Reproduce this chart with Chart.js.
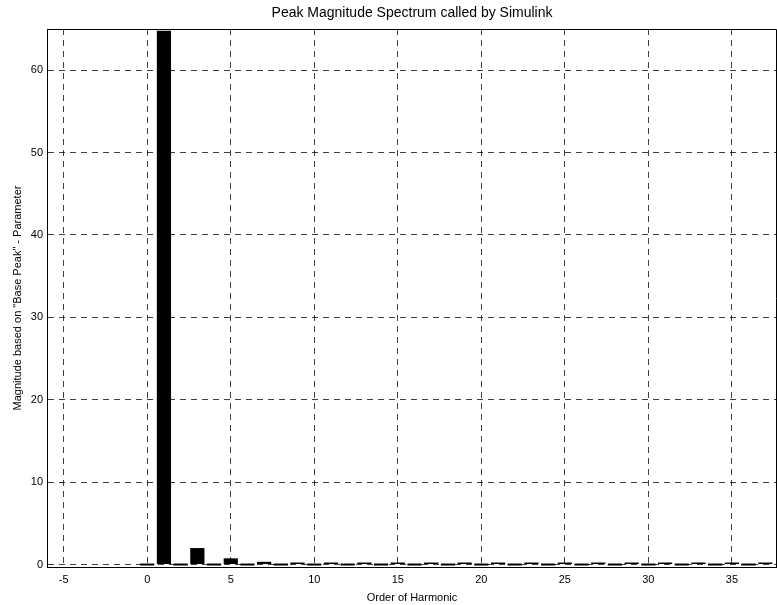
<!DOCTYPE html>
<html>
<head>
<meta charset="utf-8">
<title>Peak Magnitude Spectrum</title>
<script src="https://cdn.jsdelivr.net/npm/chart.js@4.4.1/dist/chart.umd.min.js"></script>
<style>
  html, body { margin: 0; padding: 0; background: #fff; }
  #wrap { width: 777px; height: 605px; }
</style>
</head>
<body>
<div id="wrap"><canvas id="chartSpectrum"></canvas></div>
<script>
// harmonic order and magnitude
const harmonics = [0, 1, 2, 3, 4, 5, 6, 7, 8, 9, 10, 11, 12, 13, 14, 15, 16, 17, 18,
  19, 20, 21, 22, 23, 24, 25, 26, 27, 28, 29, 30, 31, 32, 33, 34, 35, 36, 37];
const magnitudes = [0, 64.8, 0, 2.0, 0, 0.75, 0, 0.33, 0, 0.15, 0, 0.12, 0, 0.1, 0, 0.08,
  0, 0.07, 0, 0.06, 0, 0.05, 0, 0.05, 0, 0.04, 0, 0.04, 0, 0.03, 0, 0.03, 0, 0.03, 0, 0.02, 0, 0.02];

const xTicks = [-5, 0, 5, 10, 15, 20, 25, 30, 35];
const yTicks = [0, 10, 20, 30, 40, 50, 60];

const titleText = "Peak Magnitude Spectrum called by Simulink";
const xLabel = "Order of Harmonic";
const yLabel = 'Magnitude based on "Base Peak" - Parameter';

const FONT = "'Liberation Sans', Arial, Helvetica, sans-serif";

let points = harmonics.map((h, i) => ({ x: h, y: magnitudes[i] }));

// box round the axes + title centred on the plot area
const boxPlugin = {
  id: "boxPlugin",
  afterDraw(chart) {
    const ctx = chart.ctx;
    const a = chart.chartArea;
    ctx.save();
    ctx.strokeStyle = "#000";
    ctx.lineWidth = 1;
    ctx.beginPath();
    ctx.moveTo(a.left + 0.5, a.bottom);
    ctx.lineTo(a.left + 0.5, a.top + 0.5);
    ctx.lineTo(a.right - 0.5, a.top + 0.5);
    ctx.lineTo(a.right - 0.5, a.bottom);
    ctx.stroke();

    ctx.fillStyle = "#000";
    ctx.font = "14px " + FONT;
    ctx.textAlign = "center";
    ctx.textBaseline = "middle";
    ctx.fillText(titleText, (a.left + a.right) / 2, 13);
    ctx.restore();
  },
};

new Chart(document.getElementById("chartSpectrum").getContext("2d"), {
  type: "bar",
  data: {
    datasets: [
      {
        label: "Magnitude",
        data: points,
        backgroundColor: "#000",
        borderWidth: 0,
        barPercentage: 0.85,
        categoryPercentage: 1,
        minBarLength: 2,
      },
    ],
  },
  options: {
    responsive: true,
    maintainAspectRatio: false,
    animation: false,
    layout: { padding: { top: 29, right: 0, left: 0, bottom: 0 } },
    plugins: {
      legend: { display: false },
      tooltip: { enabled: false },
      title: { display: false },
    },
    scales: {
      x: {
        type: "linear",
        min: -6,
        max: 37.7,
        offset: false,
        afterBuildTicks: (scale) => {
          scale.ticks = xTicks.map((v) => ({ value: v }));
        },
        afterFit: (scale) => {
          scale.height = 38;
        },
        ticks: {
          color: "#000",
          font: { family: FONT, size: 11 },
          padding: 6,
          maxRotation: 0,
          autoSkip: false,
        },
        grid: {
          offset: false,
          color: "rgba(0,0,0,0.75)",
          lineWidth: 1,
          drawTicks: false,
        },
        border: { display: true, color: "#000", width: 1, dash: [6, 5] },
        title: {
          display: true,
          text: xLabel,
          color: "#000",
          font: { family: FONT, size: 11 },
          padding: { top: 4, bottom: 0 },
        },
      },
      y: {
        min: -0.3,
        max: 65,
        afterBuildTicks: (scale) => {
          scale.ticks = yTicks.map((v) => ({ value: v }));
        },
        afterFit: (scale) => {
          scale.width = 47;
        },
        ticks: {
          color: "#000",
          font: { family: FONT, size: 11 },
          padding: 4,
        },
        grid: {
          color: "rgba(0,0,0,0.75)",
          lineWidth: 1,
          drawTicks: false,
        },
        border: { display: true, color: "#000", width: 1, dash: [6, 5] },
        title: {
          display: true,
          text: yLabel,
          color: "#000",
          font: { family: FONT, size: 11 },
          padding: { top: 11, bottom: 4 },
        },
      },
    },
  },
  plugins: [boxPlugin],
});
</script>
</body>
</html>
